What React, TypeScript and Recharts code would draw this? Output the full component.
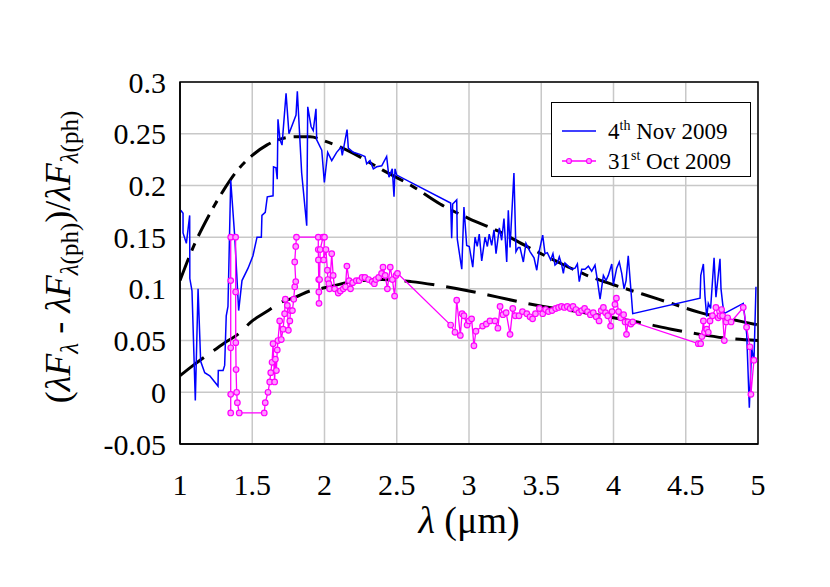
import { LineChart, Line, XAxis, YAxis, CartesianGrid, Legend, ReferenceArea } from 'recharts'

// wavelength (um) and relative excess for the two epochs
const novWavelength = [
  1.005, 1.021, 1.021, 1.044, 1.067, 1.068, 1.083, 1.106, 1.125, 1.143, 1.171, 1.206, 1.263, 1.265, 1.298,
  1.309, 1.32, 1.332, 1.351, 1.379, 1.406, 1.429, 1.471, 1.505, 1.533, 1.563, 1.567, 1.59, 1.604, 1.644,
  1.647, 1.664, 1.673, 1.678, 1.692, 1.706, 1.734, 1.754, 1.803, 1.812, 1.842, 1.877, 1.884, 1.907, 1.922,
  1.941, 1.946, 1.981, 1.999, 2.022, 2.05, 2.084, 2.114, 2.123, 2.156, 2.165, 2.199, 2.246, 2.28, 2.292,
  2.315, 2.338, 2.361, 2.396, 2.43, 2.446, 2.469, 2.481, 2.488, 2.5, 2.873, 2.88, 2.887, 2.915, 2.919,
  2.95, 2.965, 2.984, 3.002, 3.026, 3.042, 3.057, 3.071, 3.088, 3.111, 3.127, 3.14, 3.157, 3.173, 3.187,
  3.21, 3.226, 3.242, 3.261, 3.272, 3.284, 3.311, 3.325, 3.341, 3.353, 3.376, 3.394, 3.422, 3.45, 3.469,
  3.487, 3.51, 3.526, 3.542, 3.565, 3.581, 3.595, 3.611, 3.625, 3.642, 3.653, 3.664, 3.687, 3.711, 3.734,
  3.75, 3.763, 3.78, 3.803, 3.826, 3.849, 3.872, 3.888, 3.907, 3.93, 3.948, 3.964, 3.988, 3.999, 4.022,
  4.04, 4.057, 4.073, 4.087, 4.102, 4.126, 4.133, 4.599, 4.604, 4.622, 4.633, 4.645, 4.656, 4.672, 4.696,
  4.709, 4.721, 4.737, 4.744, 4.756, 4.765, 4.898, 4.922, 4.94, 4.956, 4.972, 4.986,
]
const novExcess = [
  0.176, 0.173, 0.154, 0.144, 0.171, 0.11, 0.098, -0.008, 0.1, 0.03, 0.019, 0.016, 0.006, 0.021, 0.021,
  0.026, 0.074, 0.083, 0.205, 0.15, 0.079, 0.108, 0.12, 0.132, 0.15, 0.15, 0.171, 0.174, 0.189, 0.19,
  0.218, 0.217, 0.206, 0.264, 0.244, 0.239, 0.289, 0.25, 0.268, 0.291, 0.212, 0.161, 0.276, 0.257, 0.253,
  0.274, 0.244, 0.234, 0.203, 0.232, 0.224, 0.232, 0.237, 0.229, 0.254, 0.236, 0.232, 0.23, 0.228, 0.221,
  0.224, 0.216, 0.218, 0.219, 0.228, 0.208, 0.216, 0.189, 0.216, 0.21, 0.183, 0.149, 0.182, 0.186, 0.148,
  0.119, 0.179, 0.142, 0.141, 0.121, 0.15, 0.141, 0.153, 0.127, 0.15, 0.141, 0.153, 0.142, 0.157, 0.134,
  0.159, 0.147, 0.168, 0.126, 0.176, 0.14, 0.212, 0.136, 0.14, 0.14, 0.126, 0.144, 0.136, 0.13, 0.118,
  0.137, 0.152, 0.134, 0.135, 0.128, 0.134, 0.123, 0.125, 0.131, 0.123, 0.115, 0.125, 0.122, 0.119, 0.12,
  0.124, 0.107, 0.119, 0.119, 0.122, 0.117, 0.123, 0.109, 0.09, 0.113, 0.108, 0.113, 0.124, 0.104, 0.12,
  0.126, 0.115, 0.1, 0.108, 0.132, 0.089, 0.076, 0.091, 0.113, 0.124, 0.093, 0.073, 0.086, 0.081, 0.13,
  0.092, 0.108, 0.129, 0.1, 0.085, 0.076, 0.086, 0.056, -0.015, 0.043, 0.03, 0.102,
]

const octWavelength = [
  1.351, 1.351, 1.351, 1.351, 1.351, 1.385, 1.385, 1.386, 1.388, 1.392, 1.397, 1.41, 1.583, 1.59, 1.609,
  1.621, 1.628, 1.637, 1.644, 1.655, 1.66, 1.667, 1.673, 1.678, 1.69, 1.701, 1.713, 1.724, 1.729, 1.743,
  1.75, 1.76, 1.765, 1.778, 1.787, 1.794, 1.801, 1.794, 1.801, 1.806, 1.957, 1.957, 1.958, 1.96, 1.961,
  1.962, 1.966, 1.97, 1.99, 2.0, 1.994, 2.01, 2.02, 2.023, 2.03, 2.035, 2.05, 2.06, 2.07, 2.095,
  2.11, 2.13, 2.145, 2.155, 2.17, 2.18, 2.195, 2.22, 2.24, 2.26, 2.28, 2.305, 2.33, 2.345, 2.355,
  2.375, 2.395, 2.405, 2.42, 2.435, 2.455, 2.47, 2.485, 2.495, 2.505, 2.873, 2.903, 2.915, 2.94, 2.952,
  2.965, 2.987, 3.0, 3.018, 3.034, 3.048, 3.094, 3.12, 3.145, 3.18, 3.2, 3.215, 3.235, 3.257, 3.284,
  3.303, 3.32, 3.346, 3.37, 3.4, 3.422, 3.44, 3.46, 3.487, 3.51, 3.53, 3.55, 3.575, 3.6, 3.62,
  3.64, 3.66, 3.68, 3.7, 3.72, 3.74, 3.76, 3.78, 3.8, 3.82, 3.84, 3.86, 3.88, 3.9, 3.915,
  3.93, 3.945, 3.96, 3.98, 3.99, 4.01, 4.02, 4.035, 4.05, 4.07, 4.08, 4.09, 4.1, 4.12, 4.133,
  4.587, 4.603, 4.612, 4.622, 4.63, 4.645, 4.656, 4.668, 4.685, 4.709, 4.725, 4.737, 4.748, 4.755, 4.767,
  4.78, 4.79, 4.814, 4.898, 4.921, 4.944, 4.951, 4.972,
]
const octExcess = [
  -0.02, -0.002, 0.043, 0.108, 0.15, 0.15, 0.097, 0.048, 0.022, 0.0, -0.01, -0.02, -0.02, -0.01, 0.0,
  0.01, 0.019, 0.029, 0.047, 0.01, 0.032, 0.021, 0.041, 0.05, 0.069, 0.051, 0.061, 0.076, 0.09, 0.084,
  0.06, 0.069, 0.079, 0.079, 0.09, 0.102, 0.107, 0.126, 0.141, 0.15, 0.15, 0.138, 0.128, 0.109, 0.097,
  0.086, 0.109, 0.138, 0.15, 0.15, 0.128, 0.138, 0.118, 0.109, 0.105, 0.1, 0.134, 0.113, 0.1, 0.096,
  0.098, 0.1, 0.102, 0.122, 0.108, 0.1, 0.106, 0.108, 0.108, 0.111, 0.111, 0.109, 0.107, 0.105, 0.109,
  0.111, 0.115, 0.121, 0.113, 0.1, 0.121, 0.109, 0.093, 0.113, 0.115, 0.065, 0.058, 0.089, 0.055, 0.076,
  0.074, 0.065, 0.069, 0.071, 0.045, 0.059, 0.064, 0.066, 0.069, 0.069, 0.062, 0.083, 0.075, 0.077, 0.056,
  0.081, 0.074, 0.074, 0.078, 0.076, 0.073, 0.071, 0.076, 0.081, 0.076, 0.08, 0.078, 0.079, 0.081, 0.082,
  0.083, 0.082, 0.083, 0.081, 0.083, 0.08, 0.077, 0.079, 0.081, 0.078, 0.075, 0.077, 0.073, 0.069, 0.079,
  0.082, 0.077, 0.074, 0.064, 0.078, 0.085, 0.091, 0.078, 0.072, 0.075, 0.068, 0.056, 0.068, 0.066, 0.068,
  0.047, 0.047, 0.054, 0.069, 0.058, 0.061, 0.058, 0.069, 0.074, 0.082, 0.072, 0.074, 0.08, 0.074, 0.05,
  0.068, 0.072, 0.068, 0.082, 0.063, 0.044, -0.002, 0.031,
]

// model curves
const fitWavelength = [
  1.0, 1.1, 1.2, 1.3, 1.4, 1.5, 1.6, 1.7, 1.8, 1.9, 2.0, 2.2, 2.4, 2.6, 2.8, 3.0, 3.2, 3.4, 3.6, 3.8,
  4.0, 4.2, 4.4, 4.6, 4.8, 5.0,
]
const novFit = [
  0.108, 0.143, 0.171, 0.195, 0.215, 0.229, 0.239, 0.245, 0.247, 0.247, 0.243, 0.231, 0.215, 0.2, 0.182,
  0.168, 0.156, 0.141, 0.127, 0.114, 0.104, 0.095, 0.086, 0.077, 0.071, 0.065,
]
const octFit = [
  0.016, 0.027, 0.037, 0.047, 0.056, 0.069, 0.078, 0.087, 0.092, 0.098, 0.101, 0.107, 0.109, 0.107, 0.103,
  0.098, 0.092, 0.086, 0.081, 0.077, 0.072, 0.067, 0.061, 0.056, 0.052, 0.05,
]

const xTicks = [1, 1.5, 2, 2.5, 3, 3.5, 4, 4.5, 5]
const yTicks = [-0.05, 0, 0.05, 0.1, 0.15, 0.2, 0.25, 0.3]

const novData = novWavelength.map((x, i) => ({ x, y: novExcess[i] }))
const octData = octWavelength.map((x, i) => ({ x, y: octExcess[i] }))
const novFitData = fitWavelength.map((x, i) => ({ x, y: novFit[i] }))
const octFitData = fitWavelength.map((x, i) => ({ x, y: octFit[i] }))

const serif = 'Liberation Serif'

function YTitle() {
  const sub = { fontSize: 25 }
  return (
    <text transform="translate(70,257) rotate(-90)" textAnchor="middle" fontFamily={serif} fontSize={36} fill="#000">
      <tspan>(</tspan>
      <tspan fontStyle="italic">λF</tspan>
      <tspan {...sub} fontStyle="italic" dy={8}>λ</tspan>
      <tspan dy={-8}> - </tspan>
      <tspan fontStyle="italic">λF</tspan>
      <tspan {...sub} fontStyle="italic" dy={8}>λ</tspan>
      <tspan {...sub}>(ph)</tspan>
      <tspan dy={-8}>)/</tspan>
      <tspan fontStyle="italic">λF</tspan>
      <tspan {...sub} fontStyle="italic" dy={8}>λ</tspan>
      <tspan {...sub}>(ph)</tspan>
    </text>
  )
}

function XTitle() {
  return (
    <text x={469} y={533} textAnchor="middle" fontFamily={serif} fontSize={38} fill="#000">
      <tspan fontStyle="italic">λ</tspan>
      <tspan> (μm)</tspan>
    </text>
  )
}

// axis tick text drawn at the position recharts hands over
function XTick(props: any) {
  return (
    <text x={props.x} y={props.y} dy="0.71em" textAnchor="middle" fontFamily={serif} fontSize={30} fill="#000">
      {props.payload.value}
    </text>
  )
}

function YTick(props: any) {
  return (
    <text x={props.x} y={props.y} dy="0.35em" textAnchor="end" fontFamily={serif} fontSize={30} fill="#000">
      {props.payload.value}
    </text>
  )
}

function LegendBox() {
  const row = { display: 'flex', alignItems: 'center', height: 30 }
  return (
    <div
      style={{
        width: 200,
        height: 75,
        border: '1.5px solid #000',
        background: '#fff',
        fontFamily: serif,
        fontSize: 23,
        padding: '13px 0 0 10px',
        boxSizing: 'border-box',
        textAlign: 'left',
      }}
    >
      <div style={row}>
        <svg width={34} height={10} style={{ marginRight: 12 }}>
          <line x1={0} y1={5} x2={34} y2={5} stroke="#0000ff" strokeWidth={1.5} />
        </svg>
        <span>
          4<sup style={{ fontSize: 14 }}>th</sup> Nov 2009
        </span>
      </div>
      <div style={row}>
        <svg width={34} height={10} style={{ marginRight: 12 }}>
          <line x1={0} y1={5} x2={34} y2={5} stroke="#ff00ff" strokeWidth={1.5} />
          <circle cx={7} cy={5} r={2.5} fill="#ff99ff" stroke="#ff00ff" strokeWidth={1.2} />
          <circle cx={27} cy={5} r={2.5} fill="#ff99ff" stroke="#ff00ff" strokeWidth={1.2} />
        </svg>
        <span>
          31<sup style={{ fontSize: 14 }}>st</sup> Oct 2009
        </span>
      </div>
    </div>
  )
}

export default function App() {
  return (
    <div style={{ position: 'absolute', left: 0, top: 0, background: '#fff', fontFamily: serif }}>
      <LineChart width={830} height={587} margin={{ top: 82, right: 72, left: 80, bottom: 83 }}>
        <CartesianGrid stroke="#c8c8c8" strokeWidth={1.5} />
        <XAxis
          dataKey="x"
          type="number"
          domain={[1, 5]}
          ticks={xTicks}
          height={60}
          tickLine={false}
          tickMargin={24}
          axisLine={{ stroke: '#000', strokeWidth: 1.5 }}
          tick={XTick}
          label={{ content: () => <XTitle /> }}
          allowDataOverflow
        />
        <YAxis
          type="number"
          domain={[-0.05, 0.3]}
          ticks={yTicks}
          width={100}
          tickLine={false}
          tickMargin={8}
          axisLine={{ stroke: '#000', strokeWidth: 1.5 }}
          tick={YTick}
          label={{ content: () => <YTitle /> }}
          allowDataOverflow
        />
        <ReferenceArea x1={1} x2={5} y1={-0.05} y2={0.3} fill="none" stroke="#000" strokeWidth={1.5} />
        <Legend
          layout="horizontal"
          verticalAlign="middle"
          align="center"
          content={() => <LegendBox />}
          wrapperStyle={{ position: 'absolute', left: 551, top: 102, width: 'auto' }}
        />
        <Line
          data={novFitData}
          dataKey="y"
          type="monotone"
          stroke="#000"
          strokeWidth={3}
          strokeDasharray="24 8 8 8"
          dot={false}
          isAnimationActive={false}
          legendType="none"
        />
        <Line
          data={octFitData}
          dataKey="y"
          type="monotone"
          stroke="#000"
          strokeWidth={3}
          strokeDasharray="30 12"
          dot={false}
          isAnimationActive={false}
          legendType="none"
        />
        <Line
          data={novData}
          dataKey="y"
          type="linear"
          stroke="#0000ff"
          strokeWidth={1.5}
          dot={false}
          isAnimationActive={false}
          name="4th Nov 2009"
        />
        <Line
          data={octData}
          dataKey="y"
          type="linear"
          stroke="#ff00ff"
          strokeWidth={1.3}
          dot={{ r: 2.8, stroke: '#ff00ff', strokeWidth: 1.2, fill: '#ff99ff' }}
          isAnimationActive={false}
          name="31st Oct 2009"
        />
      </LineChart>
    </div>
  )
}
